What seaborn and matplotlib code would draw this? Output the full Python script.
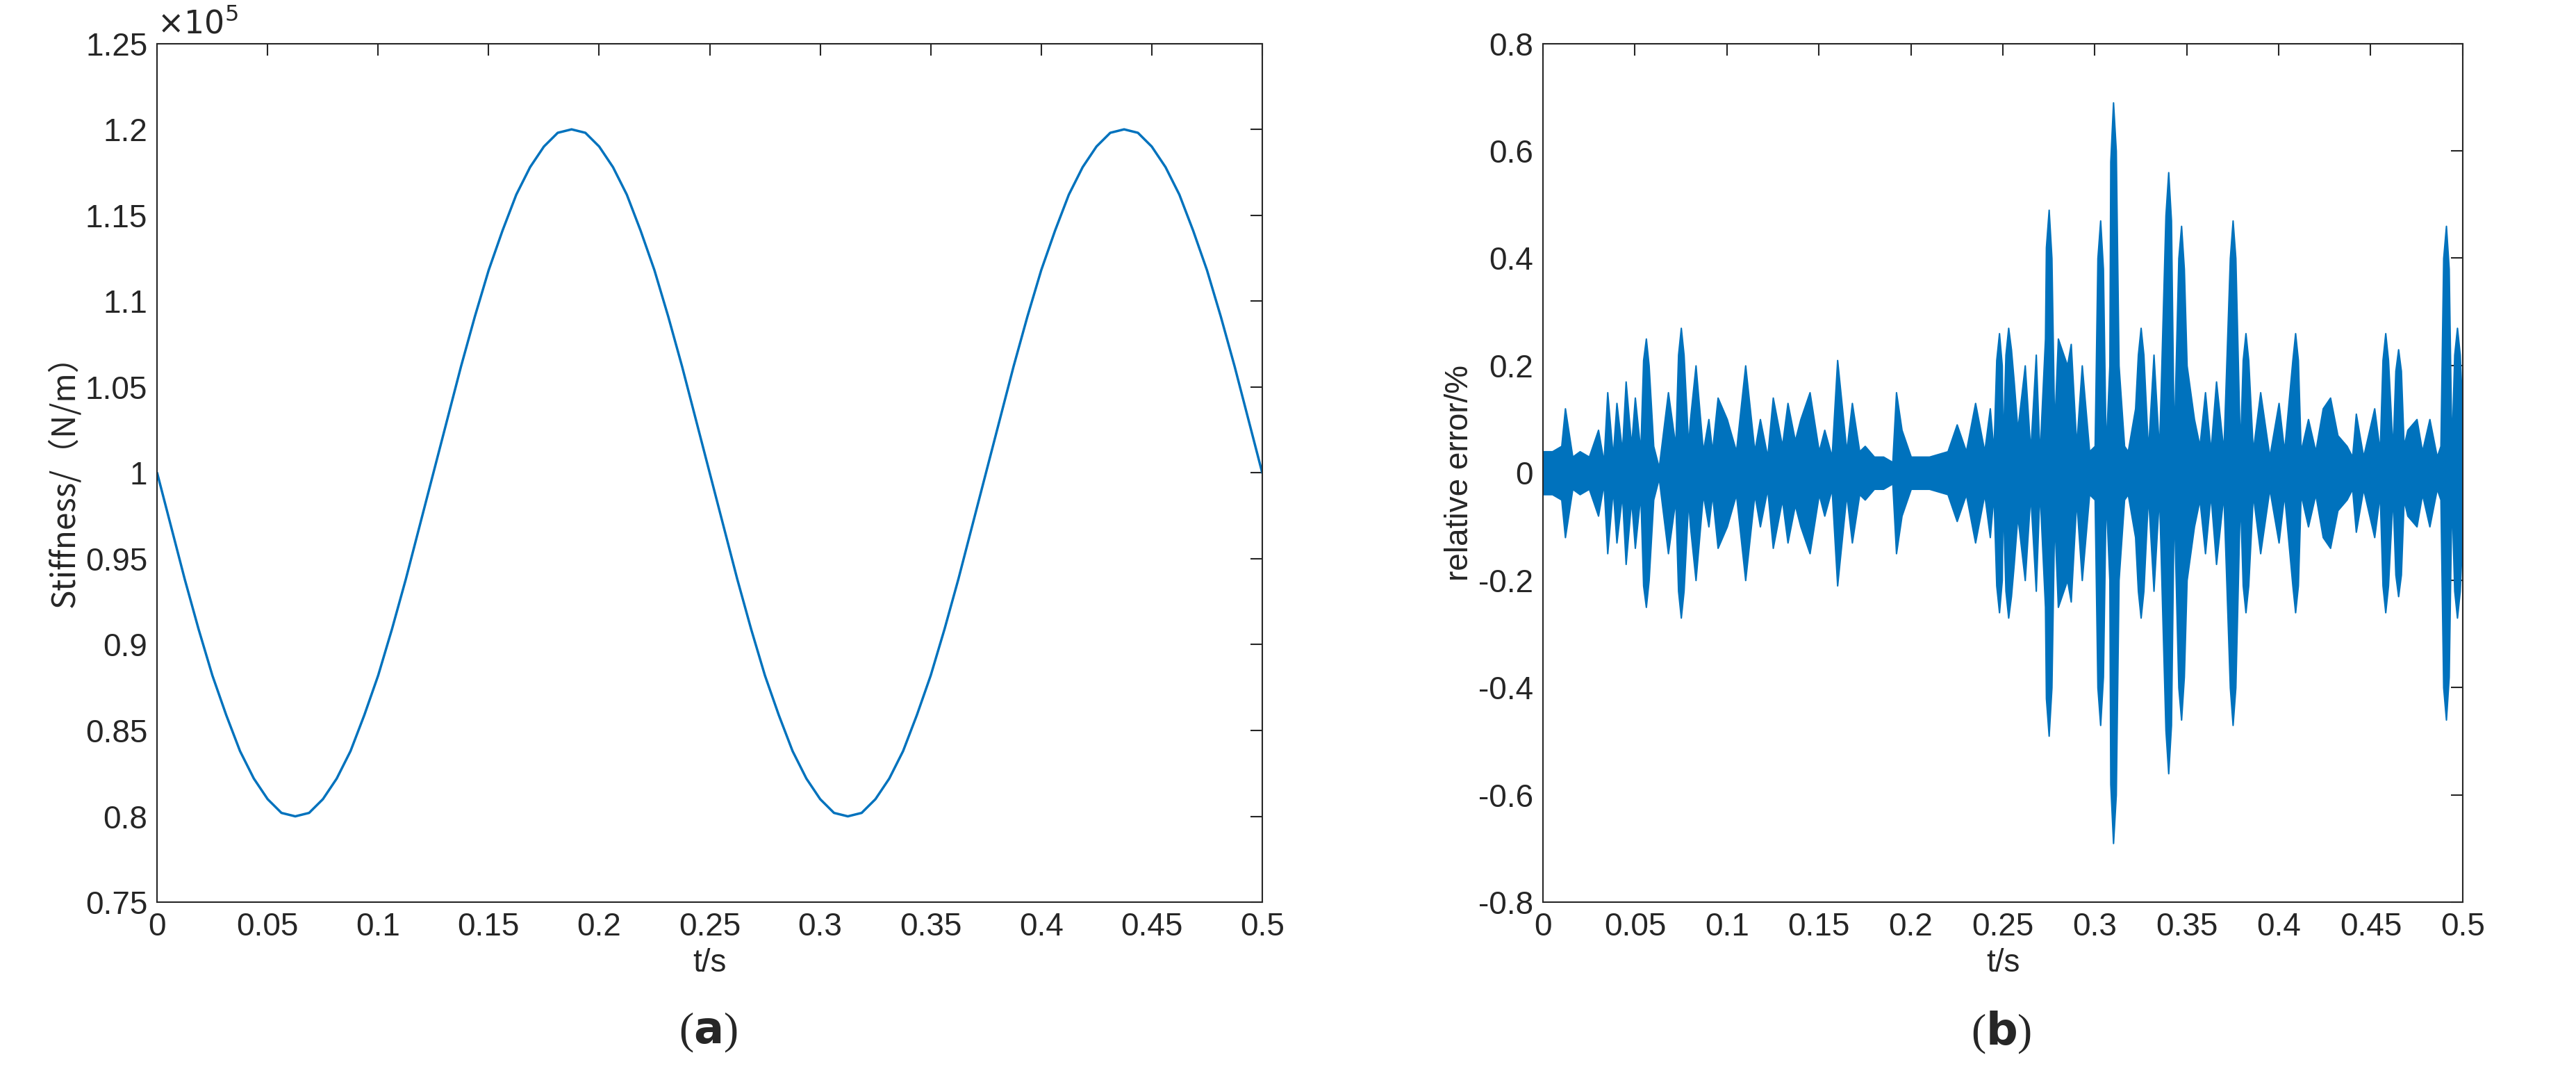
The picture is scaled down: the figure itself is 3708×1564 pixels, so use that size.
import numpy as np
import matplotlib
matplotlib.use("Agg")
import matplotlib.pyplot as plt
import seaborn as sns
import pandas as pd

sns.set_theme(style="white")
plt.rcParams['font.family'] = ['Liberation Sans', 'DejaVu Sans']

# ---- panel (a): stiffness (x1e5 N/m), read every 0.00625 s
t_a = [i * 0.00625 for i in range(81)]
half_down = [1.0, 0.969, 0.938, 0.909, 0.882, 0.859, 0.838, 0.822, 0.810, 0.802,
             0.800, 0.802, 0.810, 0.822, 0.838, 0.859, 0.882, 0.909, 0.938, 0.969]
half_up = [1.0, 1.031, 1.062, 1.091, 1.118, 1.141, 1.162, 1.178, 1.190, 1.198,
           1.200, 1.198, 1.190, 1.178, 1.162, 1.141, 1.118, 1.091, 1.062, 1.031]
stiffness = half_down + half_up + half_down + half_up + [1.0]

# ---- panel (b): relative error envelope (%), read at burst peaks/troughs
t_b = [0, 0.005, 0.010, 0.012, 0.016, 0.020, 0.025, 0.030, 0.033, 0.035, 0.038, 0.040, 0.043,
       0.045, 0.048, 0.050, 0.053, 0.056, 0.060, 0.063, 0.068, 0.072, 0.075, 0.079, 0.080,
       0.083, 0.087, 0.090, 0.092, 0.095, 0.100, 0.105, 0.110, 0.115, 0.118, 0.122, 0.125,
       0.130, 0.133, 0.137, 0.140, 0.145, 0.150, 0.153, 0.157, 0.160, 0.165, 0.168, 0.172,
       0.175, 0.180, 0.185, 0.190, 0.192, 0.195, 0.200, 0.210, 0.220, 0.225, 0.230, 0.235,
       0.240, 0.243, 0.245, 0.248, 0.250, 0.253, 0.256, 0.258, 0.262, 0.265, 0.268, 0.270,
       0.273, 0.275, 0.278, 0.280, 0.283, 0.285, 0.287, 0.290, 0.293, 0.297, 0.300, 0.303,
       0.306, 0.308, 0.310, 0.313, 0.316, 0.318, 0.322, 0.325, 0.329, 0.332, 0.335, 0.340,
       0.343, 0.347, 0.350, 0.354, 0.357, 0.360, 0.363, 0.366, 0.370, 0.375, 0.379, 0.382,
       0.386, 0.390, 0.395, 0.400, 0.403, 0.409, 0.412, 0.416, 0.420, 0.424, 0.428, 0.432,
       0.437, 0.440, 0.442, 0.446, 0.452, 0.455, 0.458, 0.462, 0.465, 0.468, 0.470, 0.475,
       0.478, 0.482, 0.486, 0.488, 0.491, 0.494, 0.497, 0.500]
env_b = [0.04, 0.04, 0.05, 0.12, 0.03, 0.04, 0.03, 0.08, 0.02, 0.15, 0.03, 0.13, 0.04,
         0.17, 0.05, 0.14, 0.04, 0.25, 0.05, 0.01, 0.15, 0.05, 0.27, 0.05, 0.10,
         0.20, 0.04, 0.10, 0.04, 0.14, 0.10, 0.04, 0.20, 0.04, 0.10, 0.03, 0.14,
         0.05, 0.13, 0.06, 0.10, 0.15, 0.04, 0.08, 0.03, 0.21, 0.04, 0.13, 0.04,
         0.05, 0.03, 0.03, 0.02, 0.15, 0.08, 0.03, 0.03, 0.04, 0.09, 0.04, 0.13,
         0.04, 0.12, 0.04, 0.26, 0.04, 0.27, 0.17, 0.08, 0.20, 0.04, 0.22, 0.03,
         0.25, 0.49, 0.08, 0.25, 0.22, 0.20, 0.24, 0.05, 0.20, 0.04, 0.05, 0.47,
         0.04, 0.20, 0.69, 0.20, 0.05, 0.04, 0.12, 0.27, 0.04, 0.22, 0.04, 0.56,
         0.05, 0.46, 0.20, 0.10, 0.05, 0.15, 0.04, 0.17, 0.04, 0.47, 0.04, 0.26,
         0.04, 0.15, 0.03, 0.13, 0.04, 0.26, 0.04, 0.10, 0.04, 0.12, 0.14, 0.07,
         0.05, 0.03, 0.11, 0.03, 0.12, 0.04, 0.26, 0.04, 0.23, 0.05, 0.08, 0.10,
         0.04, 0.10, 0.03, 0.05, 0.46, 0.04, 0.27, 0.10]
# shoulder readings on the flanks of the larger bursts
shoulder_t = [0.0545, 0.0575, 0.0735, 0.0765, 0.2465, 0.2495, 0.2515, 0.2545,
              0.2735, 0.2765, 0.3015, 0.3045, 0.3085, 0.3115, 0.3235, 0.3265,
              0.3385, 0.3415, 0.3455, 0.3485, 0.3735, 0.3765, 0.3805, 0.3835,
              0.4075, 0.4105, 0.4565, 0.4595, 0.4635, 0.4665, 0.4895, 0.4925,
              0.4955, 0.4985]
shoulder_v = [0.21, 0.20, 0.22, 0.22, 0.21, 0.20, 0.22, 0.23,
              0.42, 0.40, 0.40, 0.38, 0.58, 0.60, 0.22, 0.22,
              0.48, 0.47, 0.40, 0.38, 0.40, 0.40, 0.21, 0.21,
              0.21, 0.21, 0.21, 0.21, 0.19, 0.19, 0.40, 0.38,
              0.22, 0.22]

blue = "#0072BD"
fig = plt.figure(figsize=(37.08, 15.64), dpi=100)
axa = fig.add_axes([0.061, 0.17, 0.429, 0.79])
axb = fig.add_axes([0.599, 0.17, 0.357, 0.79])

df_a = pd.DataFrame({"t": t_a, "k": stiffness})
sns.lineplot(data=df_a, x="t", y="k", ax=axa, color=blue, linewidth=2.5)

df_b = pd.DataFrame({"t": t_b + shoulder_t, "e": env_b + shoulder_v}).sort_values("t")
axb.fill_between(df_b["t"], -df_b["e"], df_b["e"], color=blue, linewidth=1.5, edgecolor=blue)

fs = 33
for ax in (axa, axb):
    ax.set_xlim(0, 0.5)
    ax.set_xticks(np.arange(0, 0.501, 0.05))
    ax.set_xticklabels(["0", "0.05", "0.1", "0.15", "0.2", "0.25", "0.3", "0.35", "0.4", "0.45", "0.5"])
    ax.tick_params(direction="in", length=12, width=1.5, labelsize=fs, top=True, right=True,
                   colors="#262626", pad=10)
    for s in ax.spines.values():
        s.set_color("#262626")
        s.set_linewidth(1.5)
    ax.set_xlabel("t/s", fontsize=fs, color="#262626", labelpad=6)

axa.set_ylim(0.75, 1.25)
axa.set_yticks(np.arange(0.75, 1.2501, 0.05))
axa.set_yticklabels(["0.75", "0.8", "0.85", "0.9", "0.95", "1", "1.05", "1.1", "1.15", "1.2", "1.25"])
axa.set_ylabel("Stiffness/（N/m）", fontsize=fs, color="#262626",
               family=['Noto Sans CJK SC', 'DejaVu Sans'])
axa.text(0.0, 1.003, r"$\times10^5$", transform=axa.transAxes, fontsize=fs, color="#262626",
         va="bottom", ha="left")

axb.set_ylim(-0.8, 0.8)
axb.set_yticks(np.arange(-0.8, 0.801, 0.2))
axb.set_yticklabels(["-0.8", "-0.6", "-0.4", "-0.2", "0", "0.2", "0.4", "0.6", "0.8"])
axb.set_ylabel("relative error/%", fontsize=fs, color="#262626")

fig.text(0.275, 0.05, r"($\mathbf{a}$)", fontsize=46, ha="center", va="center",
         family="Liberation Serif")
fig.text(0.777, 0.05, r"($\mathbf{b}$)", fontsize=46, ha="center", va="center",
         family="Liberation Serif")

fig.savefig("out.png", dpi=100, facecolor="white")
